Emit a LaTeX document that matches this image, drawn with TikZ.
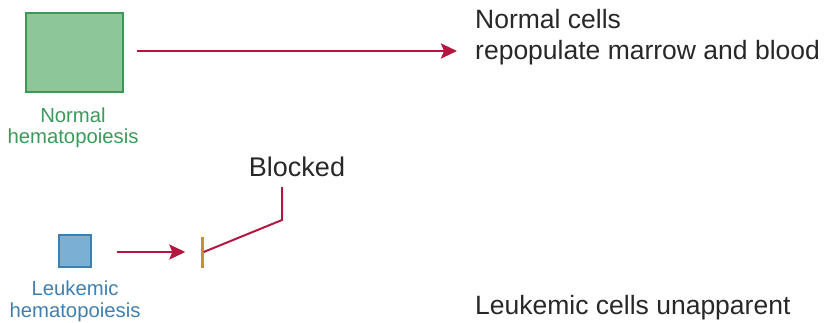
\documentclass[tikz,border=0pt]{standalone}
\usepackage{fontspec}
\setmainfont{Liberation Sans}
\usetikzlibrary{arrows.meta}
\definecolor{gfill}{RGB}{141,199,151}
\definecolor{gline}{RGB}{58,154,85}
\definecolor{gtext}{RGB}{58,154,92}
\definecolor{bfill}{RGB}{123,175,212}
\definecolor{bline}{RGB}{63,127,175}
\definecolor{btext}{RGB}{63,128,176}
\definecolor{redarr}{RGB}{181,22,63}
\definecolor{barcol}{RGB}{192,150,42}
\definecolor{txt}{RGB}{40,40,40}
\begin{document}
\begin{tikzpicture}[x=1pt,y=-1pt,
  cellbox/.style={rectangle,line width=2pt,inner sep=0pt},
  lab/.style={align=center,inner sep=0pt,font=\fontsize{20.3}{22}\selectfont},
  bigtxt/.style={text=txt,inner sep=0pt,anchor=base west,font=\fontsize{26.5}{31}\selectfont},
  redarrow/.style={draw=redarr,line width=2.4pt,-{Stealth[length=16pt,width=15pt,inset=3pt]}}
]
\useasboundingbox (0,0) rectangle (826,322);
% normal
\node[cellbox,draw=gline,fill=gfill,minimum width=97,minimum height=79] (gbox) at (74.5,52.5) {};
\node[lab,text=gtext,anchor=base] (glab1) at (73,122) {Normal};
\node[lab,text=gtext,anchor=base] (glab2) at (73,143) {hematopoiesis};
\node[bigtxt] (n1) at (475,28) {Normal cells};
\node[bigtxt] (n2) at (475,59) {repopulate marrow and blood};
\coordinate (gend) at (457,51);
\draw[redarrow,shorten <=13pt] (gbox.east |- gend) -- (gend);
% leukemic
\node[cellbox,draw=bline,fill=bfill,minimum width=32,minimum height=32] (bbox) at (75,250.5) {};
\node[lab,text=btext,anchor=base] (blab1) at (75,295) {Leukemic};
\node[lab,text=btext,anchor=base] (blab2) at (75,317) {hematopoiesis};
\node[rectangle,fill=barcol,minimum width=3,minimum height=31,inner sep=0pt] (bar) at (202,252) {};
\draw[redarrow,shorten <=25pt,shorten >=15pt] (bbox.east |- bar) -- (bar.west);
\node[text=txt,inner sep=0pt,anchor=base,font=\fontsize{27}{31}\selectfont] (blk) at (297,176) {Blocked};
\coordinate (bend) at (282,220);
\draw[draw=redarr,line width=2pt] (282,187) -- (bend) -- (bar.east);
\node[bigtxt] (n3) at (475,314) {Leukemic cells unapparent};
\end{tikzpicture}
\end{document}
